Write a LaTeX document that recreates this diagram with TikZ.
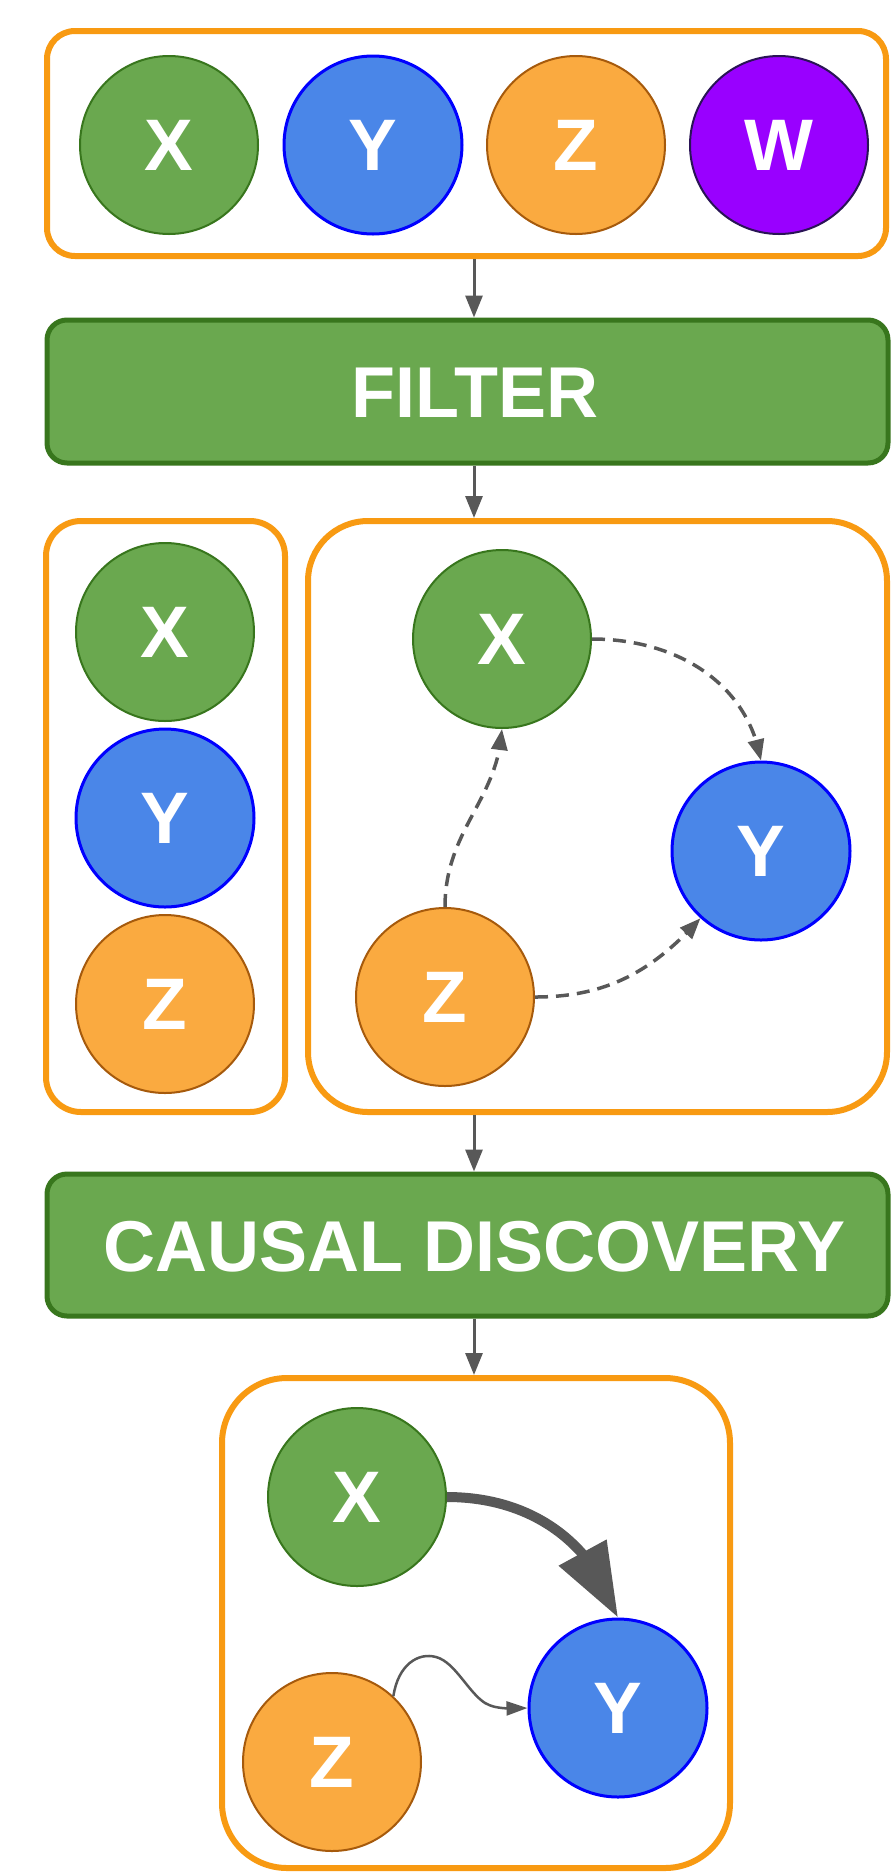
\documentclass[tikz,border=0pt]{standalone}
\usepackage{fontspec}
\setmainfont{Liberation Sans}
\usetikzlibrary{arrows.meta,bending}

\definecolor{grnfill}{HTML}{6AA84F}
\definecolor{grnline}{HTML}{38761D}
\definecolor{blufill}{HTML}{4A86E8}
\definecolor{bluline}{HTML}{0000FF}
\definecolor{orgfill}{HTML}{FAAA40}
\definecolor{orgline}{HTML}{A65A0C}
\definecolor{purfill}{HTML}{9900FF}
\definecolor{purline}{HTML}{2A1456}
\definecolor{framecol}{HTML}{F89A12}
\definecolor{arrowgray}{HTML}{585858}

\tikzset{
  var/.style={circle, minimum size=178pt, inner sep=0pt, line width=2pt,
    text=white, font=\fontsize{73}{73}\selectfont\bfseries},
  xvar/.style={var, fill=grnfill, draw=grnline},
  yvar/.style={var, fill=blufill, draw=bluline, line width=3pt},
  zvar/.style={var, fill=orgfill, draw=orgline},
  wvar/.style={var, fill=purfill, draw=purline},
  group/.style={draw=framecol, line width=6pt, rounded corners=#1,
    rectangle, inner sep=0pt},
  group/.default=30pt,
  stage/.style={draw=grnline, fill=grnfill, line width=5pt, rounded corners=20pt,
    rectangle, inner sep=0pt, minimum width=841pt},
  stagetext/.style={text=white, font=\fontsize{72}{72}\selectfont\bfseries},
  flow/.style={draw=arrowgray, line width=3pt, -{Triangle[length=22pt,width=17pt]}},
  maybe/.style={draw=arrowgray, line width=3.5pt, dash pattern=on 13pt off 8pt,
    -{Triangle[length=21pt,width=16pt,flex]}},
  strong/.style={draw=arrowgray, line width=10pt, -{Triangle[length=74pt,width=52pt,flex]}},
  weak/.style={draw=arrowgray, line width=2.5pt, -{Triangle[length=21pt,width=14pt]}},
}

\begin{document}
\begin{tikzpicture}[x=1pt, y=1pt]
  \fill[white] (0,0) rectangle (891,-1872);
  \useasboundingbox (0,0) rectangle (891,-1872);
  \coordinate (spine) at (474,0);

  % all variables
  \node[group=28pt, minimum width=839pt, minimum height=225pt] (allvars) at (466.5,-143.5) {};
  \node[xvar] (ax) at (169,-145) {X};
  \node[yvar] (ay) at (373,-145) {Y};
  \node[zvar] (az) at (576,-145) {Z};
  \node[wvar] (aw) at (779,-145) {W};

  % filter step
  \node[stage, minimum height=143pt] (filter) at (467.5,-391.5) {};
  \node[stagetext] (filterlabel) at (475,-393) {FILTER};

  % kept variables
  \node[group=35pt, minimum width=239pt, minimum height=591pt] (kept) at (165.5,-816.5) {};
  \node[xvar] (kx) at (165,-632) {X};
  \node[yvar] (ky) at (165,-818) {Y};
  \node[zvar] (kz) at (165,-1004) {Z};

  % candidate graph
  \node[group=60pt, minimum width=579pt, minimum height=591pt] (cand) at (597.5,-816.5) {};
  \node[xvar] (mx) at (502,-639) {X};
  \node[yvar] (my) at (761,-851) {Y};
  \node[zvar] (mz) at (445,-997) {Z};
  \draw[maybe] (mx.east) to[out=0, in=100] (my.north);
  \draw[maybe] (mz.north) .. controls (445,-830) and (498,-800) .. (mx.south);
  \draw[maybe] (mz.east) to[out=0, in=-132] (my.-132);

  % causal discovery step
  \node[stage, minimum height=142pt] (disc) at (467.5,-1245) {};
  \node[stagetext] (disclabel) at (474.5,-1247) {CAUSAL DISCOVERY};

  % discovered graph
  \node[group=65pt, minimum width=508pt, minimum height=490pt] (result) at (476,-1623) {};
  \node[xvar] (rx) at (357,-1497) {X};
  \node[yvar] (ry) at (618,-1708) {Y};
  \node[zvar] (rz) at (332,-1762) {Z};
  \draw[strong] (rx.east) to[out=0, in=108] (ry.north);
  \draw[weak] (rz.47) .. controls (398,-1665) and (418,-1652) .. (436,-1657)
    .. controls (455,-1662) and (468,-1692) .. (485,-1703)
    .. controls (495,-1709) and (510,-1709) .. (ry.west);

  % pipeline arrows
  \draw[flow] (allvars.south -| spine) -- (filter.north -| spine);
  \draw[flow] (filter.south -| spine) -- (cand.north -| spine);
  \draw[flow] (cand.south -| spine) -- (disc.north -| spine);
  \draw[flow] (disc.south -| spine) -- (result.north -| spine);
\end{tikzpicture}
\end{document}
